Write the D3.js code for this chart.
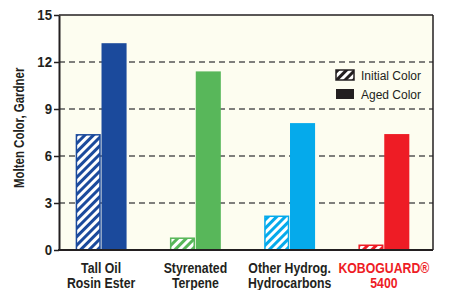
<!DOCTYPE html>
<html>
<head>
<meta charset="utf-8">
<script src="https://cdn.jsdelivr.net/npm/d3@7"></script>
<style>
  body { margin: 0; background: #fff; }
  svg text { font-family: "Liberation Sans", Arial, sans-serif; }
</style>
</head>
<body>
<svg id="chart" width="451" height="290"></svg>
<script>
"use strict";

// chart data
var categories = ["Tall Oil|Rosin Ester", "Styrenated|Terpene", "Other Hydrog.|Hydrocarbons", "KOBOGUARD®|5400"];
var initialColor = [7.4, 0.8, 2.2, 0.35];
var agedColor = [13.2, 11.4, 8.1, 7.4];
var barColors = ["#1b4a9c", "#58b75a", "#05aaeb", "#ee1c25"];
var yTicks = [0, 3, 6, 9, 12, 15];
var series = ["Initial Color", "Aged Color"];

var margin = {left: 59, right: 18, top: 15, bottom: 40};
var width = 451 - margin.left - margin.right;
var height = 290 - margin.top - margin.bottom;

// the original uses a condensed face; squeeze Liberation Sans to match
var squeeze = 0.82;

var svg = d3.select("#chart");
var defs = svg.append("defs");

// one hatch pattern per bar colour, plus a dark one for the legend
barColors.concat(["#231f20"]).forEach(function(c, i) {
	var p = defs.append("pattern")
		.attr("id", "hatch" + i)
		.attr("patternUnits", "userSpaceOnUse")
		.attr("width", 6)
		.attr("height", 6)
		.attr("patternTransform", "rotate(45)");
	p.append("rect").attr("width", 6).attr("height", 6).attr("fill", "#fff");
	p.append("rect").attr("width", 3).attr("height", 6).attr("fill", c);
});

var g = svg.append("g")
	.attr("transform", "translate(" + margin.left + "," + margin.top + ")");

var y = d3.scaleLinear().domain([0, 15]).range([height, 0]);
var x0 = d3.scaleBand().domain(categories)
	.range([-5, width - 2]).paddingInner(0.46).paddingOuter(0.23);
var x1 = d3.scaleBand().domain(series)
	.range([0, x0.bandwidth()]).paddingInner(0.03);

// plot background
g.append("rect")
	.attr("width", width).attr("height", height)
	.attr("fill", "#fdfdf0");

// dashed gridlines
g.append("g")
	.selectAll("line")
	.data(yTicks.filter(function(d) { return d > 0 && d < 15; }))
	.enter().append("line")
	.attr("x1", 0).attr("x2", width)
	.attr("y1", function(d) { return y(d); })
	.attr("y2", function(d) { return y(d); })
	.attr("stroke", "#555")
	.attr("stroke-width", 1.3)
	.attr("stroke-dasharray", "6,4");

// bars
var groups = g.selectAll(".grp")
	.data(categories)
	.enter().append("g")
	.attr("class", "grp")
	.attr("transform", function(d) { return "translate(" + x0(d) + ",0)"; });

groups.append("rect")
	.attr("x", x1("Initial Color") + 0.75)
	.attr("y", function(d, i) { return y(initialColor[i]) + 0.75; })
	.attr("width", x1.bandwidth() - 1.5)
	.attr("height", function(d, i) { return Math.max(0, height - y(initialColor[i]) - 0.75); })
	.attr("fill", function(d, i) { return "url(#hatch" + i + ")"; })
	.attr("stroke", function(d, i) { return barColors[i]; })
	.attr("stroke-width", 1.5);

groups.append("rect")
	.attr("x", x1("Aged Color"))
	.attr("y", function(d, i) { return y(agedColor[i]); })
	.attr("width", x1.bandwidth())
	.attr("height", function(d, i) { return height - y(agedColor[i]); })
	.attr("fill", function(d, i) { return barColors[i]; });

// frame: top and right thin, left and bottom axes heavier
g.append("line").attr("x1", 0).attr("x2", width).attr("y1", 0).attr("y2", 0)
	.attr("stroke", "#231f20").attr("stroke-width", 1.5);
g.append("line").attr("x1", width).attr("x2", width).attr("y1", 0).attr("y2", height)
	.attr("stroke", "#231f20").attr("stroke-width", 1.5);

var yAxis = g.append("g")
	.call(d3.axisLeft(y).tickValues(yTicks).tickSize(5).tickSizeOuter(0));
yAxis.select(".domain").attr("stroke", "#231f20").attr("stroke-width", 2);
yAxis.selectAll(".tick line").attr("stroke", "#231f20").attr("stroke-width", 1.5);
yAxis.selectAll(".tick text")
	.attr("x", null)
	.attr("transform", "translate(-7,0) scale(0.88,1)")
	.attr("fill", "#231f20")
	.style("font-size", "15px")
	.style("font-weight", "bold");

g.append("line").attr("x1", -1).attr("x2", width).attr("y1", height).attr("y2", height)
	.attr("stroke", "#231f20").attr("stroke-width", 2);

// category labels, two lines each
var labels = g.selectAll(".xlab")
	.data(categories)
	.enter().append("text")
	.attr("class", "xlab")
	.attr("text-anchor", "middle")
	.attr("transform", function(d) {
		return "translate(" + (x0(d) + x0.bandwidth() / 2) + "," + (height + 23) + ") scale(" + squeeze + ",1)";
	})
	.attr("fill", function(d, i) { return i === 3 ? "#ee1c25" : "#231f20"; })
	.style("font-size", "15px")
	.style("font-weight", "bold");
labels.each(function(d) {
	var parts = d.split("|");
	var t = d3.select(this);
	t.append("tspan").attr("x", 0).text(parts[0]);
	t.append("tspan").attr("x", 0).attr("dy", 15).text(parts[1]);
});

// y title
svg.append("text")
	.attr("transform", "translate(24," + (margin.top + y(7.8)) + ") rotate(-90) scale(" + squeeze + ",1)")
	.attr("text-anchor", "middle")
	.attr("fill", "#231f20")
	.style("font-size", "14px")
	.style("font-weight", "bold")
	.text("Molten Color, Gardner");

// legend
var legend = g.selectAll(".leg")
	.data(series)
	.enter().append("g")
	.attr("class", "leg")
	.attr("transform", function(d, i) { return "translate(277," + (55 + i * 19) + ")"; });
legend.append("rect")
	.attr("width", 18).attr("height", 10)
	.attr("fill", function(d, i) { return i === 0 ? "url(#hatch4)" : "#231f20"; })
	.attr("stroke", "#231f20")
	.attr("stroke-width", function(d, i) { return i === 0 ? 1.5 : 0; });
legend.append("text")
	.attr("x", 25).attr("y", 10)
	.attr("fill", "#231f20")
	.style("font-size", "12px")
	.text(function(d) { return d; });
</script>
</body>
</html>
